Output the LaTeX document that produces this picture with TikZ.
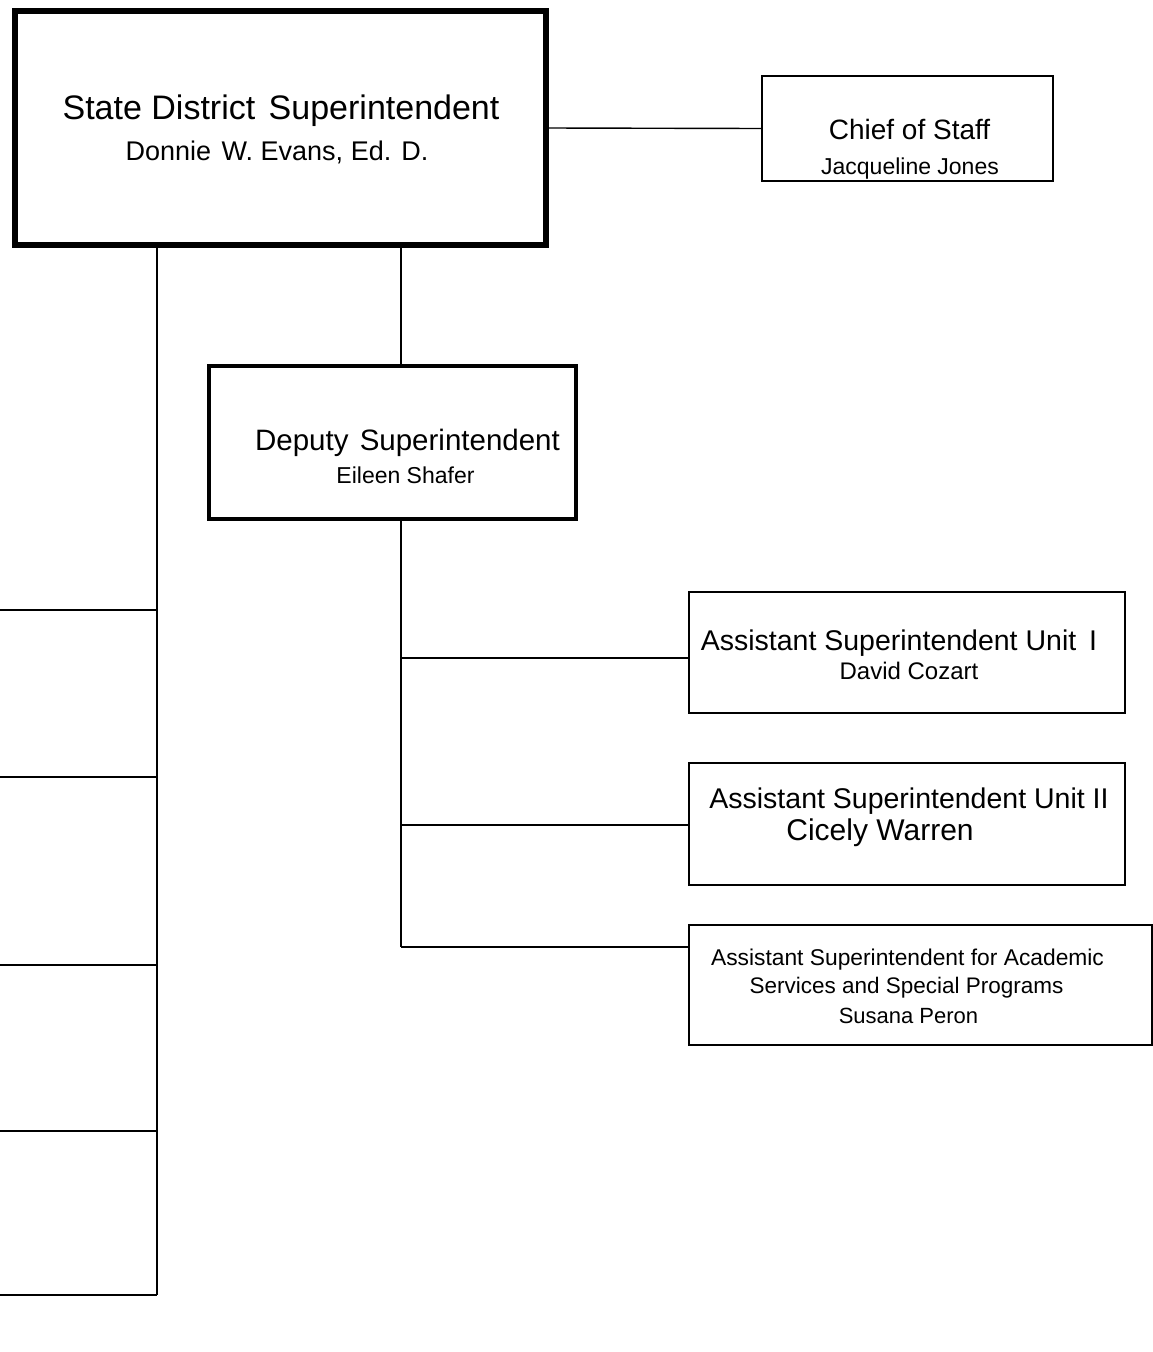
\documentclass[tikz,border=0pt]{standalone}
\usepackage{fontspec}
\setmainfont{Liberation Sans}
\newcommand{\fs}[1]{\fontsize{#1}{#1}\selectfont}

\begin{document}
\begin{tikzpicture}[x=1pt,y=-1pt,
  box/.style={draw, line width=1.5pt, inner sep=0pt, outer sep=0pt},
  link/.style={line width=1.4pt},
  trunk/.style={line width=2.2pt},
  txt/.style={anchor=base, inner sep=0pt}]
\useasboundingbox (0,0) rectangle (1153,1352);
% boxes
\node[box, line width=6pt, minimum width=531pt, minimum height=234pt] (sup) at (280.5,128) {};
\node[box, minimum width=291pt, minimum height=105pt] (chief) at (907.5,128.5) {};
\node[box, line width=4pt, minimum width=367pt, minimum height=153pt] (dep) at (392.5,442.5) {};
\node[box, minimum width=436pt, minimum height=121pt] (unit1) at (907,652.5) {};
\node[box, minimum width=436pt, minimum height=122pt] (unit2) at (907,824) {};
\node[box, minimum width=463pt, minimum height=120pt] (acad) at (920.5,985) {};
% texts
\node[txt, font=\fs{34}] (sup-title) at (281,119) {State District\hspace{4pt} Superintendent};
\node[txt, font=\fs{27}] (sup-name) at (277,160) {Donnie\hspace{3pt} W. Evans, Ed. D.};
\node[txt, font=\fs{28}] (chief-title) at (909.5,139) {Chief of Staff};
\node[txt, font=\fs{23}] (chief-name) at (910,174) {Jacqueline Jones};
\node[txt, font=\fs{29.5}] (dep-title) at (407.5,450) {Deputy\hspace{3pt} Superintendent};
\node[txt, font=\fs{23}] (dep-name) at (405.5,483) {Eileen Shafer};
\node[txt, font=\fs{28.5}] (unit1-title) at (899,650) {Assistant Superintendent Unit\hspace{5pt} I};
\node[txt, font=\fs{24}] (unit1-name) at (909,679) {David Cozart};
\node[txt, font=\fs{28.5}] (unit2-title) at (909,808) {Assistant Superintendent Unit II};
\node[txt, font=\fs{30}] (unit2-name) at (880,840) {Cicely Warren};
\node[txt, font=\fs{22.8}] (acad-title) at (907.5,965) {Assistant Superintendent for Academic};
\node[txt, font=\fs{22.5}] (acad-sub) at (906.5,993) {Services and Special Programs};
\node[txt, font=\fs{22}] (acad-name) at (908.5,1023) {Susana Peron};
% connectors
\draw[link] (sup.east) -- (chief.west);
\coordinate (lefttrunk) at (157,1295);
\draw[trunk] (sup.south -| lefttrunk) -- (lefttrunk);
\coordinate (l1) at (0,610);
\coordinate (l2) at (0,777);
\coordinate (l3) at (0,965);
\coordinate (l4) at (0,1131);
\coordinate (l5) at (0,1295);
\draw[trunk] (l1) -- (l1 -| lefttrunk);
\draw[trunk] (l2) -- (l2 -| lefttrunk);
\draw[trunk] (l3) -- (l3 -| lefttrunk);
\draw[trunk] (l4) -- (l4 -| lefttrunk);
\draw[trunk] (l5) -- (lefttrunk);
\coordinate (spine) at (401,947);
\draw[link] (sup.south -| spine) -- (dep.north -| spine);
\draw[trunk] (dep.south -| spine) -- (spine);
\coordinate (r1) at (401,658);
\coordinate (r2) at (401,825);
\draw[link] (r1) -- (r1 -| unit1.west);
\draw[link] (r2) -- (r2 -| unit2.west);
\draw[link] (spine) -- (spine -| acad.west);
\end{tikzpicture}
\end{document}
